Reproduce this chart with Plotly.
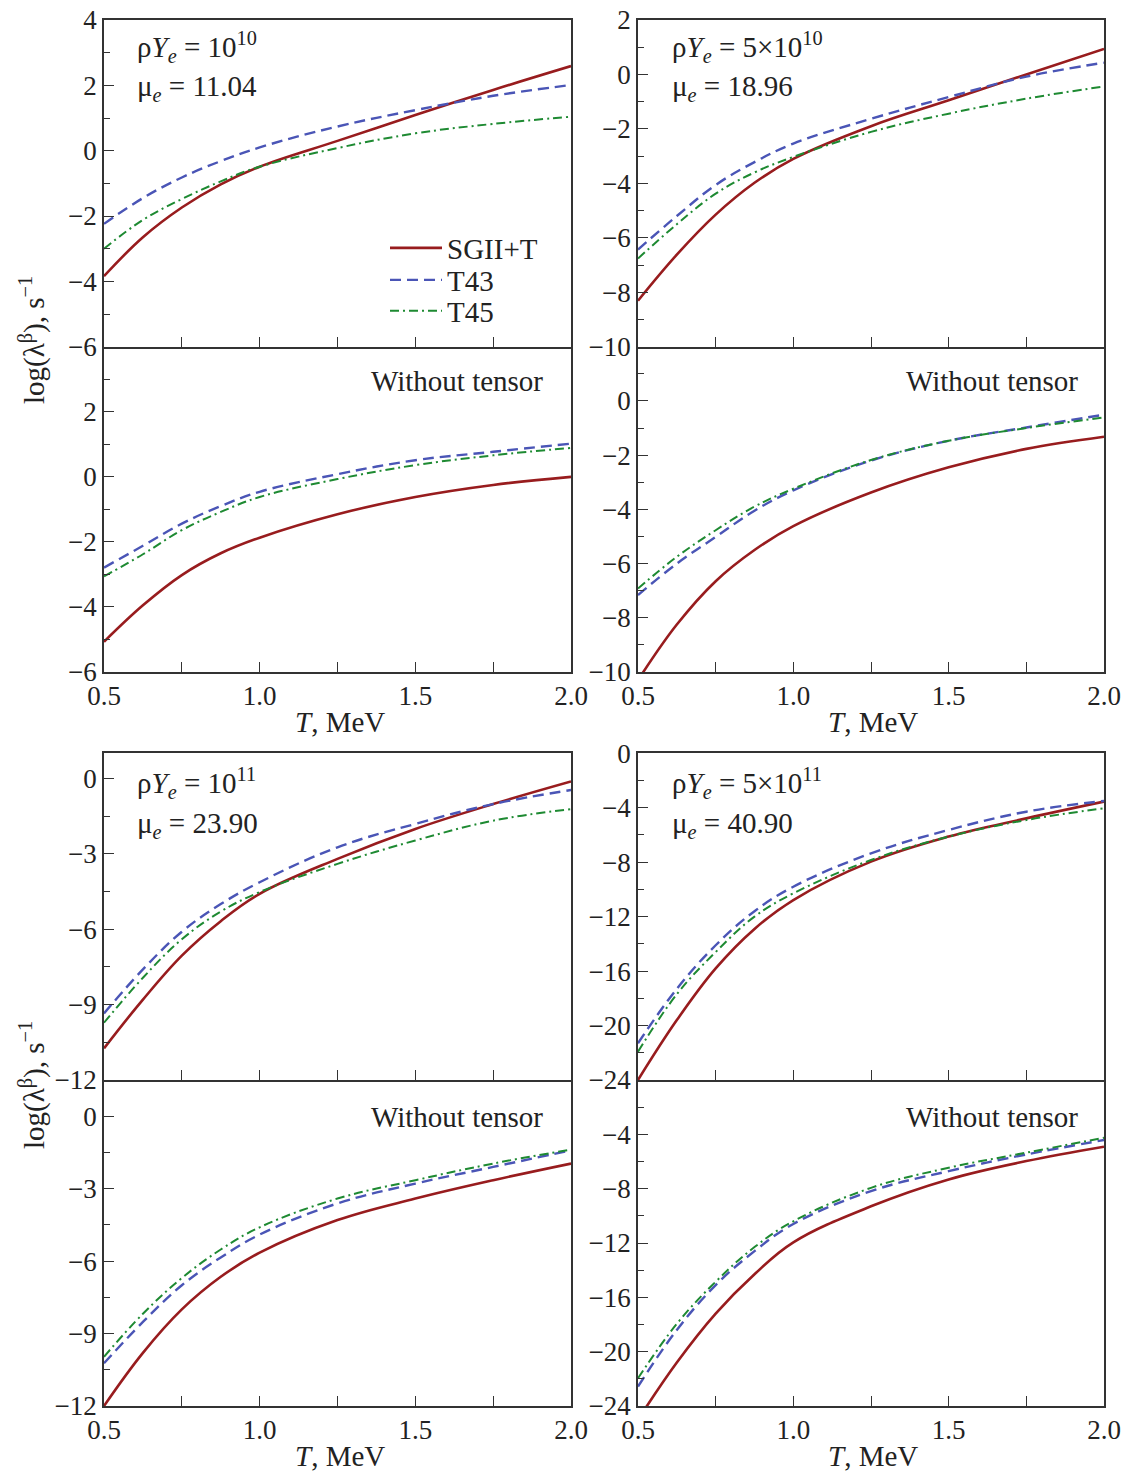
import plotly.graph_objects as go

# ---------------- data ----------------
T = [0.5, 0.625, 0.75, 0.875, 1.0, 1.25, 1.5, 1.75, 2.0]
series_names = ["SGII+T", "T43", "T45"]

# rho*Ye = 1e10, with tensor / without tensor
r1e10_tensor_sgii = [-3.84, -2.65, -1.74, -1.03, -0.49, 0.30, 1.09, 1.86, 2.59]
r1e10_tensor_t43 = [-2.24, -1.45, -0.82, -0.32, 0.10, 0.74, 1.24, 1.68, 2.01]
r1e10_tensor_t45 = [-3.00, -2.12, -1.48, -0.94, -0.49, 0.08, 0.53, 0.82, 1.04]
r1e10_notensor_sgii = [-5.07, -3.95, -3.02, -2.35, -1.87, -1.15, -0.62, -0.25, 0.00]
r1e10_notensor_t43 = [-2.79, -2.12, -1.44, -0.90, -0.46, 0.08, 0.51, 0.77, 1.02]
r1e10_notensor_t45 = [-3.06, -2.38, -1.64, -1.08, -0.62, -0.07, 0.36, 0.66, 0.89]

# rho*Ye = 5e10
r5e10_tensor_sgii = [-8.31, -6.62, -5.15, -3.98, -3.10, -1.90, -0.95, 0.00, 0.94]
r5e10_tensor_t43 = [-6.43, -5.20, -4.06, -3.22, -2.54, -1.63, -0.83, -0.08, 0.43]
r5e10_tensor_t45 = [-6.76, -5.50, -4.38, -3.60, -3.03, -2.11, -1.44, -0.89, -0.44]
r5e10_notensor_sgii = [-10.30, -8.25, -6.65, -5.50, -4.62, -3.38, -2.45, -1.77, -1.32]
r5e10_notensor_t43 = [-7.16, -6.00, -5.02, -4.05, -3.30, -2.20, -1.47, -0.98, -0.51]
r5e10_notensor_t45 = [-6.92, -5.75, -4.77, -3.90, -3.24, -2.18, -1.47, -1.00, -0.61]

# rho*Ye = 1e11
r1e11_tensor_sgii = [-10.74, -8.80, -7.05, -5.68, -4.59, -3.20, -2.01, -1.02, -0.12]
r1e11_tensor_t43 = [-9.35, -7.60, -6.10, -5.00, -4.13, -2.74, -1.81, -1.02, -0.46]
r1e11_tensor_t45 = [-9.72, -7.93, -6.40, -5.30, -4.52, -3.40, -2.47, -1.68, -1.22]
r1e11_notensor_sgii = [-12.00, -9.80, -8.00, -6.65, -5.65, -4.30, -3.41, -2.65, -1.96]
r1e11_notensor_t43 = [-10.23, -8.52, -7.00, -5.85, -4.90, -3.61, -2.79, -2.10, -1.41]
r1e11_notensor_t45 = [-9.96, -8.18, -6.70, -5.52, -4.60, -3.41, -2.65, -1.96, -1.38]

# rho*Ye = 5e11
r5e11_tensor_sgii = [-24.00, -19.60, -15.80, -12.90, -10.78, -7.96, -6.12, -4.78, -3.55]
r5e11_tensor_t43 = [-21.30, -17.30, -14.10, -11.60, -9.80, -7.35, -5.63, -4.29, -3.50]
r5e11_tensor_t45 = [-21.92, -17.70, -14.60, -12.00, -10.29, -7.84, -6.12, -4.90, -4.04]
r5e11_notensor_sgii = [-25.00, -20.80, -17.20, -14.30, -11.95, -9.30, -7.32, -5.97, -4.91]
r5e11_notensor_t43 = [-22.57, -18.40, -15.10, -12.60, -10.60, -8.18, -6.71, -5.48, -4.42]
r5e11_notensor_t45 = [-21.96, -17.95, -14.85, -12.30, -10.40, -7.94, -6.46, -5.35, -4.25]

x_tickvals = [0.5, 1.0, 1.5, 2.0]
x_ticktext = ["0.5", "1.0", "1.5", "2.0"]

panel_labels = [
    ("ρ<i>Y</i><sub><i>e</i></sub> = 10<sup>10</sup>", "μ<sub><i>e</i></sub> = 11.04"),
    ("ρ<i>Y</i><sub><i>e</i></sub> = 5×10<sup>10</sup>", "μ<sub><i>e</i></sub> = 18.96"),
    ("ρ<i>Y</i><sub><i>e</i></sub> = 10<sup>11</sup>", "μ<sub><i>e</i></sub> = 23.90"),
    ("ρ<i>Y</i><sub><i>e</i></sub> = 5×10<sup>11</sup>", "μ<sub><i>e</i></sub> = 40.90"),
]

# ---------------- styling ----------------
W, H = 1141, 1475
FONT = "Liberation Serif"
FS = 29
TFS = 27
colors = ["#981c1e", "#4a55b6", "#1e8a32"]
dashes = ["solid", "11px,6px", "9px,4px,2px,4px"]
widths = [2.6, 2.4, 2.0]

def px_x(a, b):
    return [a / W, b / W]

def px_y(top, bottom):
    return [1 - bottom / H, 1 - top / H]

cols = [px_x(104, 571), px_x(638, 1104)]
rows = [(px_y(20, 346.7), px_y(346.7, 672)), (px_y(753.3, 1080), px_y(1080, 1406))]

def fmt(v):
    return ("%g" % v).replace("-", "−")

panels = [
    ([r1e10_tensor_sgii, r1e10_tensor_t43, r1e10_tensor_t45], 0, 0, False, [-6, 4], [-6, -4, -2, 0, 2, 4], 1),
    ([r1e10_notensor_sgii, r1e10_notensor_t43, r1e10_notensor_t45], 0, 0, True, [-6, 4], [-6, -4, -2, 0, 2], 1),
    ([r5e10_tensor_sgii, r5e10_tensor_t43, r5e10_tensor_t45], 1, 0, False, [-10, 2], [-10, -8, -6, -4, -2, 0, 2], 1),
    ([r5e10_notensor_sgii, r5e10_notensor_t43, r5e10_notensor_t45], 1, 0, True, [-10, 2], [-10, -8, -6, -4, -2, 0], 1),
    ([r1e11_tensor_sgii, r1e11_tensor_t43, r1e11_tensor_t45], 0, 1, False, [-12, 1], [-12, -9, -6, -3, 0], 1.5),
    ([r1e11_notensor_sgii, r1e11_notensor_t43, r1e11_notensor_t45], 0, 1, True, [-12, 1.5], [-12, -9, -6, -3, 0], 1.5),
    ([r5e11_tensor_sgii, r5e11_tensor_t43, r5e11_tensor_t45], 1, 1, False, [-24, 0], [-24, -20, -16, -12, -8, -4, 0], 2),
    ([r5e11_notensor_sgii, r5e11_notensor_t43, r5e11_notensor_t45], 1, 1, True, [-24, 0], [-24, -20, -16, -12, -8, -4], 2),
]

legend_ids = ["legend", "legend2", "legend3"]

fig = go.Figure()
layout = {}
axcol = "#333333"
tickfont = dict(family=FONT, size=TFS, color="#222")
for i, (data, c, g, is_bottom, yr, ytv, ydt) in enumerate(panels, start=1):
    xa = "x" if i == 1 else f"x{i}"
    ya = "y" if i == 1 else f"y{i}"
    for k, ys in enumerate(data):
        fig.add_trace(go.Scatter(
            x=T, y=ys, xaxis=xa, yaxis=ya, mode="lines",
            name=series_names[k], showlegend=(i == 1), legend=legend_ids[k],
            line=dict(color=colors[k], width=widths[k], dash=dashes[k], shape="spline", smoothing=1.1),
        ))
    ydom = rows[g][1] if is_bottom else rows[g][0]
    layout["xaxis" if i == 1 else f"xaxis{i}"] = dict(
        domain=cols[c], range=[0.5, 2.0], anchor=ya, automargin=False,
        showline=True, linecolor=axcol, linewidth=1.5, mirror=(not is_bottom),
        ticks="inside", ticklen=10, tickwidth=1.4, tickcolor=axcol,
        tickvals=x_tickvals, ticktext=x_ticktext, showticklabels=is_bottom,
        ticklabelstandoff=-1,
        minor=dict(ticks="inside", ticklen=10, tickwidth=1.4, tickcolor=axcol, dtick=0.25, tick0=0.5),
        showgrid=False, zeroline=False, tickfont=tickfont,
    )
    layout["yaxis" if i == 1 else f"yaxis{i}"] = dict(
        domain=ydom, range=yr, anchor=xa, automargin=False,
        showline=True, linecolor=axcol, linewidth=1.5, mirror=True,
        ticks="inside", ticklen=10, tickwidth=1.4, tickcolor=axcol,
        tickvals=ytv, ticktext=[fmt(v) for v in ytv],
        minor=dict(ticks="inside", ticklen=6, tickwidth=1.2, tickcolor=axcol, dtick=ydt, tick0=0),
        showgrid=False, zeroline=False, tickfont=tickfont,
    )

annotations = []
text_font = dict(family=FONT, size=FS, color="#222")
label_pos = [(135, 47, 88), (670, 47, 88), (135, 783, 825), (670, 783, 825)]
for (l1, l2), (xp, y1, y2) in zip(panel_labels, label_pos):
    annotations.append(dict(text=l1, x=xp / W, y=1 - y1 / H, xref="paper", yref="paper",
                            xanchor="left", yanchor="middle", showarrow=False, font=text_font))
    annotations.append(dict(text=l2, x=xp / W, y=1 - y2 / H, xref="paper", yref="paper",
                            xanchor="left", yanchor="middle", showarrow=False, font=text_font))
for xp, yp in [(545, 381), (1080, 381), (545, 1117), (1080, 1117)]:
    annotations.append(dict(text="Without tensor", x=xp / W, y=1 - yp / H, xref="paper", yref="paper",
                            xanchor="right", yanchor="middle", showarrow=False, font=text_font))
for xp, yp in [(340, 722), (873, 722), (340, 1456), (873, 1456)]:
    annotations.append(dict(text="<i>T</i>, MeV", x=xp / W, y=1 - yp / H, xref="paper", yref="paper",
                            xanchor="center", yanchor="middle", showarrow=False, font=text_font))
for yp in [340, 1085]:
    annotations.append(dict(text="log(λ<sup>β</sup>), s<sup>−1</sup>", x=32 / W, y=1 - yp / H,
                            xref="paper", yref="paper", xanchor="center", yanchor="middle",
                            textangle=-90, showarrow=False, font=text_font))

legend_y = [248, 280, 311]
for lid, yp in zip(legend_ids, legend_y):
    layout[lid] = dict(x=385 / W, y=1 - yp / H, xanchor="left", yanchor="middle",
                       bgcolor="rgba(0,0,0,0)", font=dict(family=FONT, size=FS, color="#222"),
                       itemwidth=52, tracegroupgap=0, borderwidth=0)

layout.update(
    width=W, height=H,
    margin=dict(l=0, r=0, t=0, b=0, autoexpand=False),
    paper_bgcolor="white", plot_bgcolor="white",
    annotations=annotations,
    showlegend=True,
    font=dict(family=FONT, size=FS, color="#222"),
)
fig.update_layout(**layout)
fig.write_html("out.html")
